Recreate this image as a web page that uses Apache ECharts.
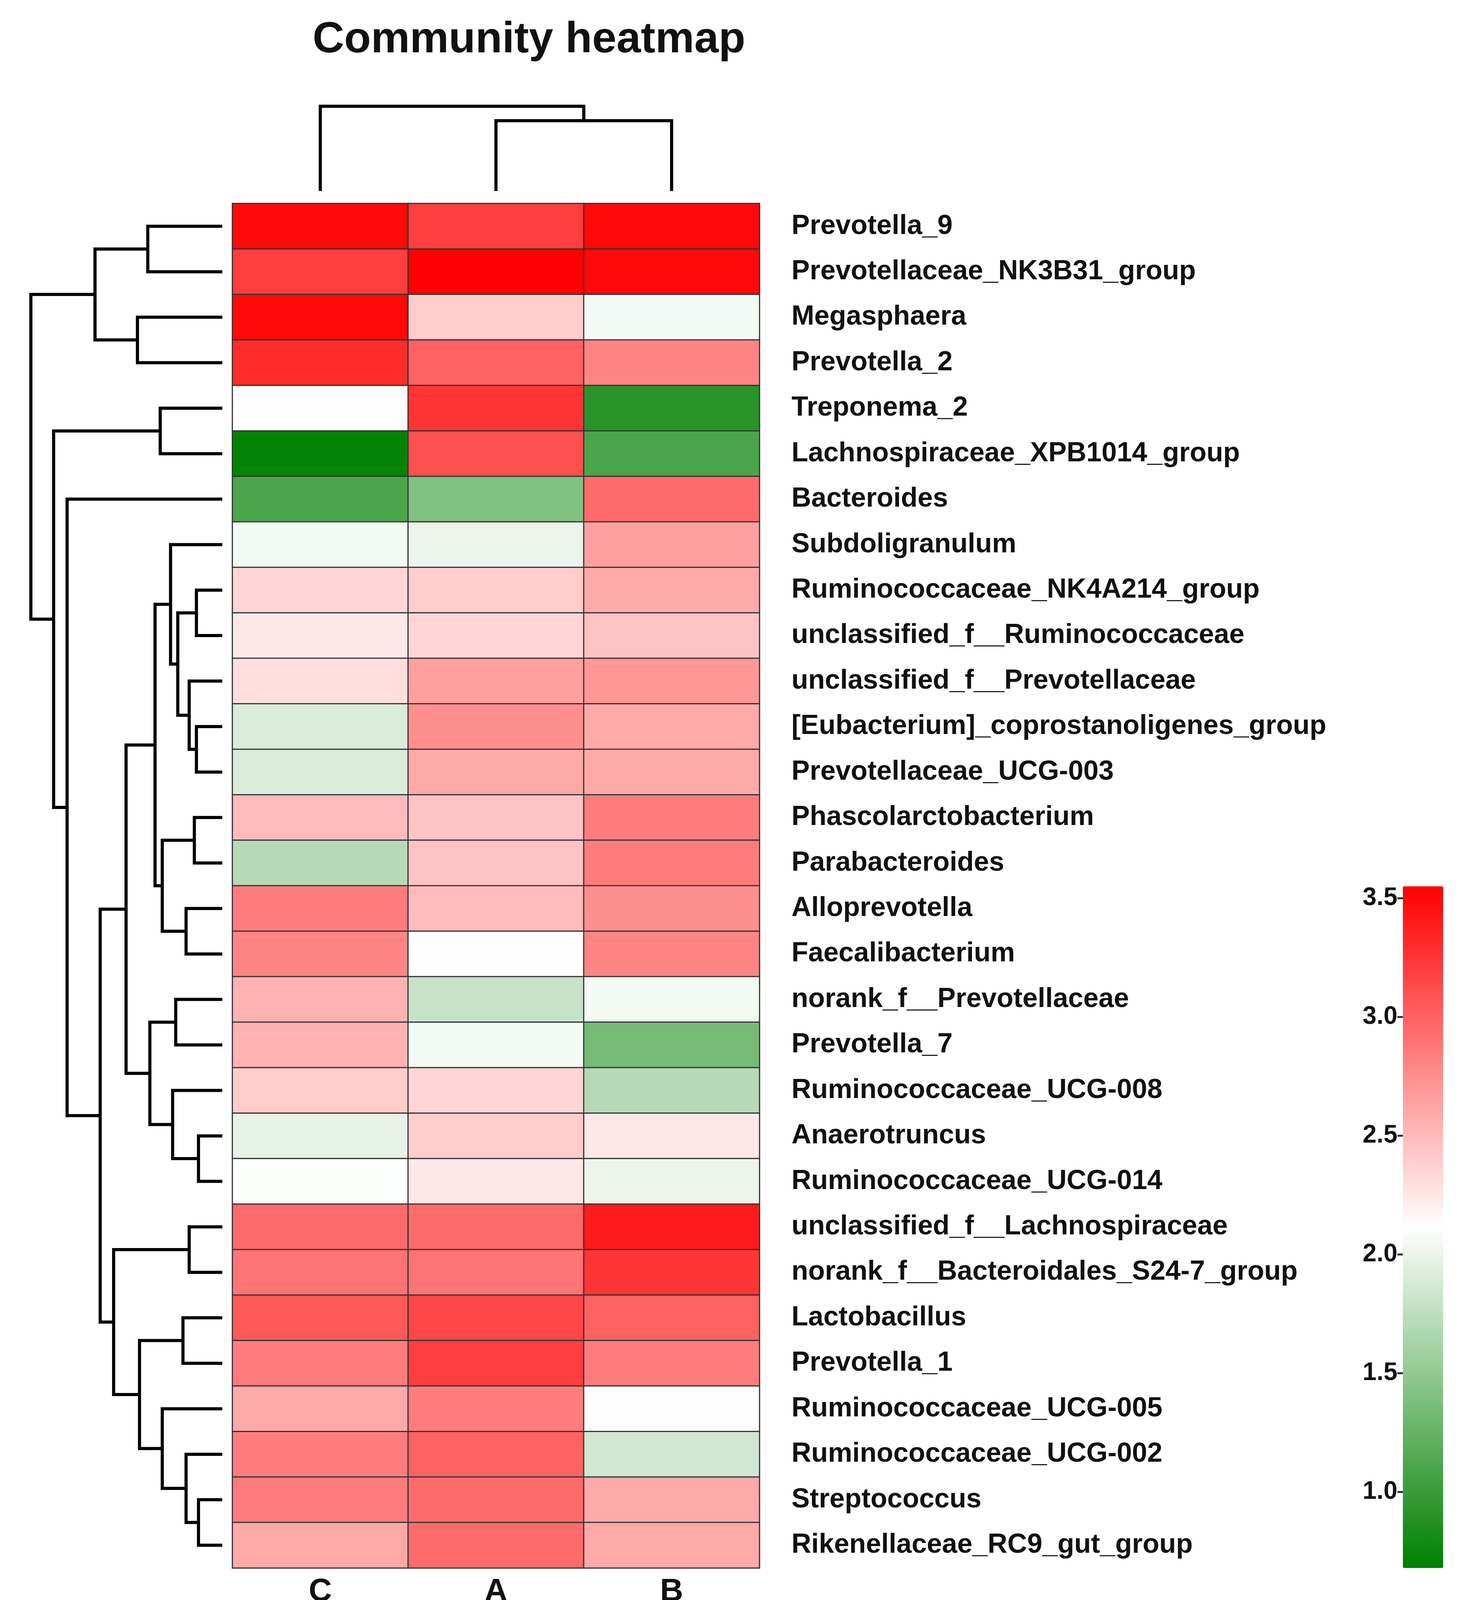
<!DOCTYPE html>
<html>
<head>
<meta charset="utf-8">
<script src="https://cdn.jsdelivr.net/npm/echarts@6.0.0/dist/echarts.min.js"></script>
<style>html,body{margin:0;padding:0;background:#fff}#main{width:3750px;height:4127px}</style>
</head>
<body>
<div id="main"></div>
<script>
var samples = ["C", "A", "B"];
var genera = ["Prevotella_9", "Prevotellaceae_NK3B31_group", "Megasphaera", "Prevotella_2", "Treponema_2",
  "Lachnospiraceae_XPB1014_group", "Bacteroides", "Subdoligranulum", "Ruminococcaceae_NK4A214_group",
  "unclassified_f__Ruminococcaceae", "unclassified_f__Prevotellaceae", "[Eubacterium]_coprostanoligenes_group",
  "Prevotellaceae_UCG-003", "Phascolarctobacterium", "Parabacteroides", "Alloprevotella", "Faecalibacterium",
  "norank_f__Prevotellaceae", "Prevotella_7", "Ruminococcaceae_UCG-008", "Anaerotruncus", "Ruminococcaceae_UCG-014",
  "unclassified_f__Lachnospiraceae", "norank_f__Bacteroidales_S24-7_group", "Lactobacillus", "Prevotella_1",
  "Ruminococcaceae_UCG-005", "Ruminococcaceae_UCG-002", "Streptococcus", "Rikenellaceae_RC9_gut_group"];
// values per genus, order C, A, B
var valC = [3.5, 3.2, 3.5, 3.3, 2.12, 0.7, 1.1, 2.05, 2.35, 2.25, 2.3, 1.9, 1.9, 2.5, 1.7, 2.85, 2.8, 2.55, 2.55, 2.4, 1.98, 2.1, 2.95, 2.9, 3.05, 2.85, 2.6, 2.85, 2.85, 2.6];
var valA = [3.2, 3.55, 2.4, 3.0, 3.25, 3.1, 1.4, 2.0, 2.4, 2.35, 2.65, 2.75, 2.6, 2.45, 2.45, 2.5, 2.12, 1.8, 2.05, 2.35, 2.4, 2.25, 2.95, 2.9, 3.15, 3.2, 2.85, 3.0, 2.95, 2.95];
var valB = [3.5, 3.5, 2.05, 2.8, 0.9, 1.1, 2.95, 2.65, 2.6, 2.45, 2.7, 2.6, 2.6, 2.85, 2.85, 2.75, 2.8, 2.05, 1.35, 1.7, 2.25, 2.0, 3.4, 3.25, 3.0, 2.85, 2.12, 1.85, 2.6, 2.6];
var colorTicks = [1.0, 1.5, 2.0, 2.5, 3.0, 3.5];
var vMin = 0.68, vMax = 3.55;

// clustering trees: [height, left, right], leaves are indices
var rowTree = [185,
  [123, [72, 0, 1], [82, 2, 3]],
  [163, [60, 4, 5],
    [150, 6,
      [118,
        [93,
          [65, [50, 7, [43, [25, 8, 9], [32, 10, [25, 11, 12]]]], [58, [27, 13, 14], [35, 15, 16]]],
          [70, [45, 17, 18], [48, 19, [23, 20, 21]]]],
        [105, [32, 22, 23], [80, [38, 24, 25], [58, 26, [35, 27, [23, 28, 29]]]]]]]]];
var colTree = [82, 0, [68, 1, 2]];

function links(tree) {
  var out = [];
  function walk(n) {
    if (typeof n === "number") return { pos: n, h: 0 };
    var a = walk(n[1]), b = walk(n[2]);
    out.push([a.pos, a.h, b.pos, b.h, n[0]]);
    return { pos: (a.pos + b.pos) / 2, h: n[0] };
  }
  walk(tree);
  return out;
}

var heatData = [];
var cols = [valC, valA, valB];
for (var c = 0; c < 3; c++) for (var r = 0; r < genera.length; r++) heatData.push([c, r, cols[c][r]]);

var font = "Liberation Sans";
var hm = { left: 595, top: 521, width: 1349, height: 3493 };

function dendro(horizontal) {
  return function (params, api) {
    var p1 = api.value(0), h1 = api.value(1), p2 = api.value(2), h2 = api.value(3), H = api.value(4);
    var pts = horizontal
      ? [api.coord([h1, p1]), api.coord([H, p1]), api.coord([H, p2]), api.coord([h2, p2])]
      : [api.coord([p1, h1]), api.coord([p1, H]), api.coord([p2, H]), api.coord([p2, h2])];
    return { type: "polyline", shape: { points: pts }, style: { stroke: "#000", lineWidth: 8, fill: null } };
  };
}

var chart = echarts.init(document.getElementById("main"));
chart.setOption({
  backgroundColor: "#fff",
  animation: false,
  title: { text: "Community heatmap", left: 1349, top: 42, textAlign: "center",
    textStyle: { fontFamily: font, fontWeight: "bold", fontSize: 112, color: "#111" } },
  grid: [
    hm,
    { left: 79, top: 521, width: 490, height: 3493 },
    { left: 595, top: 272, width: 1349, height: 217 },
    { left: 3591, top: 2269, width: 103, height: 1745 }
  ],
  xAxis: [
    { gridIndex: 0, type: "category", data: samples, axisLine: { show: false }, axisTick: { show: false },
      axisLabel: { fontFamily: font, fontWeight: "bold", fontSize: 82, color: "#111", margin: 20 } },
    { gridIndex: 1, type: "value", min: 0, max: 185, inverse: true, show: false },
    { gridIndex: 2, type: "value", min: -0.5, max: 2.5, show: false },
    { gridIndex: 3, type: "value", min: 0, max: 1, show: false }
  ],
  yAxis: [
    { gridIndex: 0, type: "category", data: genera, inverse: true, position: "right",
      axisLine: { show: false }, axisTick: { show: false },
      axisLabel: { fontFamily: font, fontWeight: "bold", fontSize: 70, color: "#111", margin: 82, align: "left" } },
    { gridIndex: 1, type: "value", min: -0.5, max: 29.5, inverse: true, show: false },
    { gridIndex: 2, type: "value", min: 0, max: 82, show: false },
    { gridIndex: 3, type: "value", min: vMin, max: vMax, position: "left",
      splitLine: { show: false },
      axisLine: { show: false },
      axisTick: { show: true, length: 14, customValues: colorTicks, lineStyle: { color: "#333", width: 5 } },
      axisLabel: { customValues: colorTicks, formatter: function (v) { return v.toFixed(1); },
        fontFamily: font, fontWeight: "bold", fontSize: 64, color: "#111", margin: 14 } }
  ],
  visualMap: {
    type: "continuous", min: vMin, max: vMax, seriesIndex: 0, calculable: false,
    left: 3591, top: 2269, itemWidth: 103, itemHeight: 1745, text: null, showLabel: false,
    padding: 0, inRange: { color: ["#008000", "#ffffff", "#ff0000"] }
  },
  series: [
    { type: "heatmap", xAxisIndex: 0, yAxisIndex: 0, data: heatData,
      itemStyle: { borderColor: "#333", borderWidth: 3 } },
    { type: "custom", xAxisIndex: 1, yAxisIndex: 1, data: links(rowTree), renderItem: dendro(true), silent: true },
    { type: "custom", xAxisIndex: 2, yAxisIndex: 2, data: links(colTree), renderItem: dendro(false), silent: true }
  ]
});
</script>
</body>
</html>
